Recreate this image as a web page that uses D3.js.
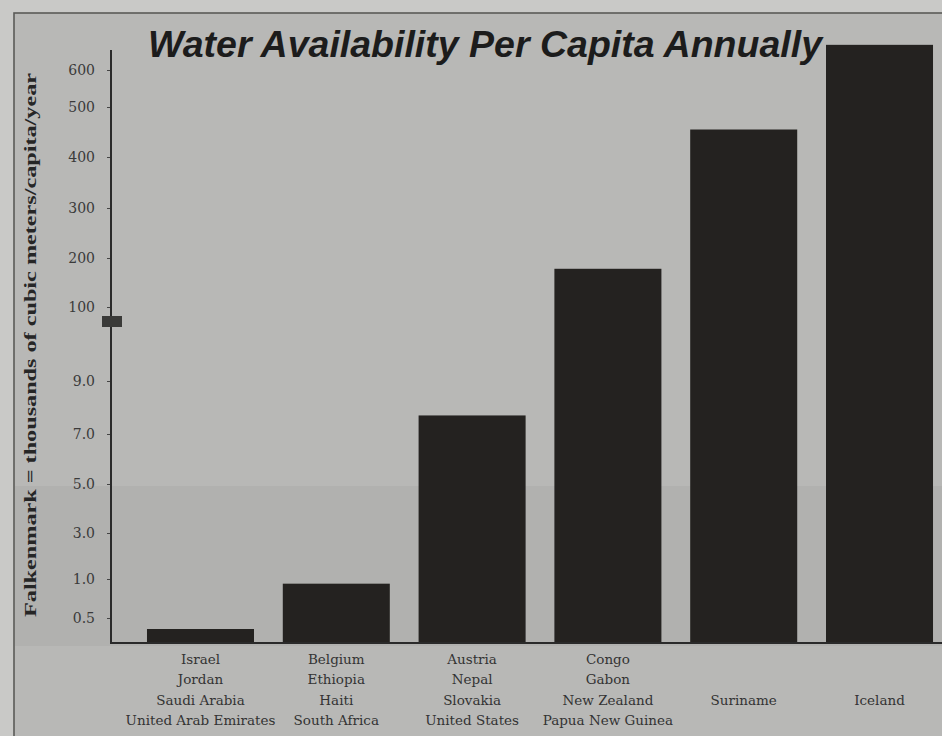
<!DOCTYPE html>
<html>
<head>
<meta charset="utf-8">
<script src="https://cdn.jsdelivr.net/npm/d3@7"></script>
<style>
  html, body { margin: 0; padding: 0; background: #c9c9c7; }
  svg { display: block; }
</style>
</head>
<body>
<svg id="chart" width="942" height="736"></svg>
<script>
// ---- data ----
const title = "Water Availability Per Capita Annually";
const yAxisTitle = "Falkenmark = thousands of cubic meters/capita/year";
const categories = ["g1", "g2", "g3", "g4", "g5", "g6"];
const categoryLabels = [
  ["Israel", "Jordan", "Saudi Arabia", "United Arab Emirates"],
  ["Belgium", "Ethiopia", "Haiti", "South Africa"],
  ["Austria", "Nepal", "Slovakia", "United States"],
  ["Congo", "Gabon", "New Zealand", "Papua New Guinea"],
  ["Suriname"],
  ["Iceland"]
];
const values = [0.28, 0.94, 7.7, 178, 455, 668];
const tickValues = [0.5, 1, 3, 5, 7, 9, 100, 200, 300, 400, 500, 600];
const tickLabels = ["0.5", "1.0", "3.0", "5.0", "7.0", "9.0", "100", "200", "300", "400", "500", "600"];
// broken, non-uniform printed axis: pixel position of each printed tick
const scaleDomain = [0, 0.5, 1, 3, 5, 7, 9, 100, 200, 300, 400, 500, 600];
const scaleRange  = [643, 618, 579, 533, 484, 434, 381, 307, 258, 208, 157, 107, 70];

// ---- drawing ----
const svg = d3.select("#chart");
const axisX = 111, baseY = 643;

// paper / frame
svg.append("rect").attr("x", 0).attr("y", 0).attr("width", 942).attr("height", 736).attr("fill", "#c9c9c7");
svg.append("rect").attr("x", 14).attr("y", 13).attr("width", 940).attr("height", 740)
  .attr("fill", "#b8b8b6").attr("stroke", "#5a5a58").attr("stroke-width", 1.6);
svg.append("rect").attr("x", 15).attr("y", 486).attr("width", 930).attr("height", 160)
  .attr("fill", "#a9a9a7").attr("opacity", 0.45);

const x = d3.scaleBand().domain(categories).range([111, 969]).paddingInner(0.212).paddingOuter(0.265);
const y = d3.scaleLinear().domain(scaleDomain).range(scaleRange);

// title
svg.append("text").attr("x", 148).attr("y", 57)
  .attr("font-family", "'Liberation Sans', Arial, sans-serif")
  .attr("font-weight", "bold").attr("font-style", "italic")
  .attr("font-size", 37).attr("fill", "#1c1c1c")
  .attr("textLength", 674).attr("lengthAdjust", "spacingAndGlyphs")
  .text(title);

// y-axis title
svg.append("text")
  .attr("transform", `translate(36,${(73 + 617) / 2}) rotate(-90)`)
  .attr("text-anchor", "middle")
  .attr("font-family", "'Liberation Serif', 'Times New Roman', serif")
  .attr("font-weight", "bold").attr("font-size", 16).attr("fill", "#262626")
  .attr("textLength", 544).attr("lengthAdjust", "spacingAndGlyphs")
  .text(yAxisTitle);

// bars
svg.append("g").selectAll("rect").data(values).join("rect")
  .attr("x", (d, i) => x(categories[i]))
  .attr("width", x.bandwidth())
  .attr("y", d => y(d))
  .attr("height", d => baseY - y(d))
  .attr("fill", "#242220");

// y axis
const yAxis = d3.axisLeft(y).tickValues(tickValues)
  .tickFormat((d, i) => tickLabels[i]).tickSizeInner(4).tickSizeOuter(0).tickPadding(12);
const gy = svg.append("g").attr("transform", `translate(${axisX},0)`).call(yAxis);
gy.select(".domain").remove();
gy.selectAll(".tick line").attr("stroke", "#444");
gy.selectAll(".tick text")
  .attr("font-family", "'DejaVu Serif', serif").attr("font-size", 14).attr("fill", "#3a3a3a");
svg.append("line").attr("x1", axisX).attr("x2", axisX).attr("y1", 50).attr("y2", baseY)
  .attr("stroke", "#2a2a2a").attr("stroke-width", 2);
// break mark
svg.append("rect").attr("x", axisX - 9).attr("y", 316).attr("width", 20).attr("height", 11)
  .attr("fill", "#3a3a38");

// x baseline
svg.append("line").attr("x1", axisX - 1).attr("x2", 942).attr("y1", baseY).attr("y2", baseY)
  .attr("stroke", "#2a2a2a").attr("stroke-width", 2);

// category labels
const lineYs = [664, 684, 705, 725];
const g = svg.append("g");
categoryLabels.forEach((lines, i) => {
  const cx = x(categories[i]) + x.bandwidth() / 2;
  const ys = lines.length === 1 ? [705] : lineYs;
  lines.forEach((t, j) => {
    g.append("text").attr("x", cx).attr("y", ys[j]).attr("text-anchor", "middle")
      .attr("font-family", "'DejaVu Serif', serif").attr("font-size", 13.5)
      .attr("fill", "#333").text(t);
  });
});
</script>
</body>
</html>
